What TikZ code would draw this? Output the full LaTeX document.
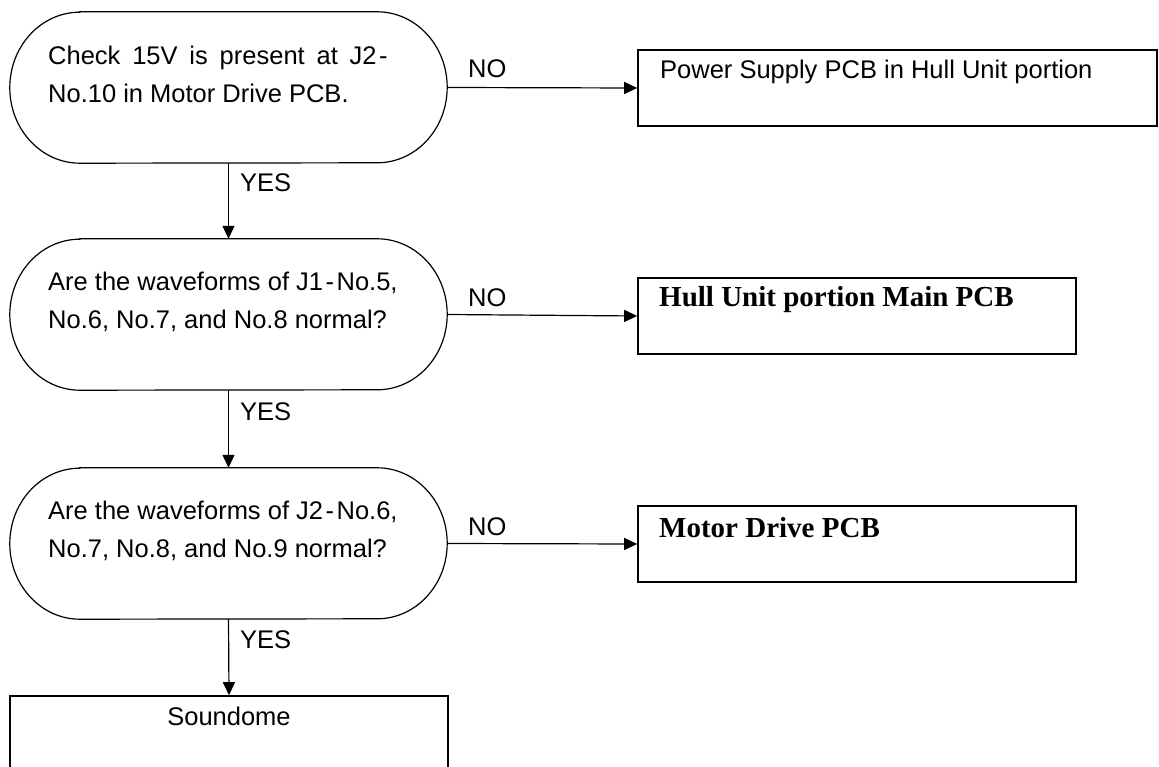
\documentclass[tikz,border=0pt]{standalone}
\usepackage{fontspec}
\setmainfont{Liberation Serif}
\setsansfont{Liberation Sans}
\usetikzlibrary{arrows.meta}

% hyphen with a little air on both sides, as in the connector names
\newcommand{\pinsep}{\kern2.5pt-\kern2.5pt}

\begin{document}
\begin{tikzpicture}[x=1pt,y=1pt,
  decbox/.style={rectangle, minimum width=437pt, minimum height=151pt, inner sep=0pt},
  decline/.style={line width=1.2pt},
  outbox/.style={rectangle, draw, line width=1.6pt, inner sep=0pt},
  arr/.style={line width=1.2pt, -{Triangle[length=13pt,width=12pt]}},
  qtext/.style={anchor=north west, inner sep=0pt, align=left,
    font=\sffamily\fontsize{25.5}{38}\selectfont},
  lbl/.style={anchor=base west, inner sep=0pt, font=\sffamily\fontsize{25.5}{30}\selectfont},
  stext/.style={anchor=base west, inner sep=0pt, font=\sffamily\fontsize{25.5}{30}\selectfont},
  btext/.style={anchor=base west, inner sep=0pt, font=\bfseries\fontsize{29}{33}\selectfont}]

\clip (0,0) rectangle (1159,-767);

% terminator-shaped question boxes
\node[decbox] (d1) at (228.5,-87.5) {};
\node[decbox] (d2) at (228.5,-314.5) {};
\node[decbox] (d3) at (228.5,-543.5) {};
\foreach \d in {d1,d2,d3}{
  \draw[decline] ([xshift=70pt]\d.north west) -- ([xshift=-70pt]\d.north east)
    arc[start angle=90, end angle=-90, x radius=70pt, y radius=75.5pt]
    -- ([xshift=70pt]\d.south west)
    arc[start angle=270, end angle=90, x radius=70pt, y radius=75.5pt] -- cycle;
}

\node[qtext] (q1) at (48,-46) {\makebox[342pt][s]{Check 15V is present at J2\pinsep}\\No.10 in Motor Drive PCB.};
\node[qtext] (q2) at (48,-272) {Are the waveforms of J1\pinsep No.5,\\No.6, No.7, and No.8 normal?};
\node[qtext] (q3) at (48,-501) {Are the waveforms of J2\pinsep No.6,\\No.7, No.8, and No.9 normal?};

% result boxes
\node[outbox, minimum width=519pt, minimum height=76pt] (b1) at (897.5,-88) {};
\node[outbox, minimum width=438pt, minimum height=76pt] (b2) at (857,-316) {};
\node[outbox, minimum width=438pt, minimum height=76pt] (b3) at (857,-544) {};
\node[outbox, minimum width=438pt, minimum height=110pt] (b4) at (229,-751) {};

\node[stext] (t1) at (660,-79) {Power Supply PCB in Hull Unit portion};
\node[btext] (t2) at (659,-307) {Hull Unit portion Main PCB};
\node[btext] (t3) at (659,-537) {Motor Drive PCB};
\node[stext, anchor=base] (t4) at (229,-725) {Soundome};

% connectors
\draw[arr] (d1.south) -- (d2.north);
\draw[arr] (d2.south) -- (d3.north);
\draw[arr] (d3.south) -- (b4.north);
\draw[arr] (d1.east) -- (b1.west);
\draw[arr] (d2.east) -- (b2.west);
\draw[arr] (d3.east) -- (b3.west);

% branch labels
\node[lbl] (y1) at (240,-192) {YES};
\node[lbl] (y2) at (240,-420) {YES};
\node[lbl] (y3) at (240,-648) {YES};
\node[lbl] (n1) at (468,-78) {NO};
\node[lbl] (n2) at (468,-306) {NO};
\node[lbl] (n3) at (468,-535) {NO};
\end{tikzpicture}
\end{document}
